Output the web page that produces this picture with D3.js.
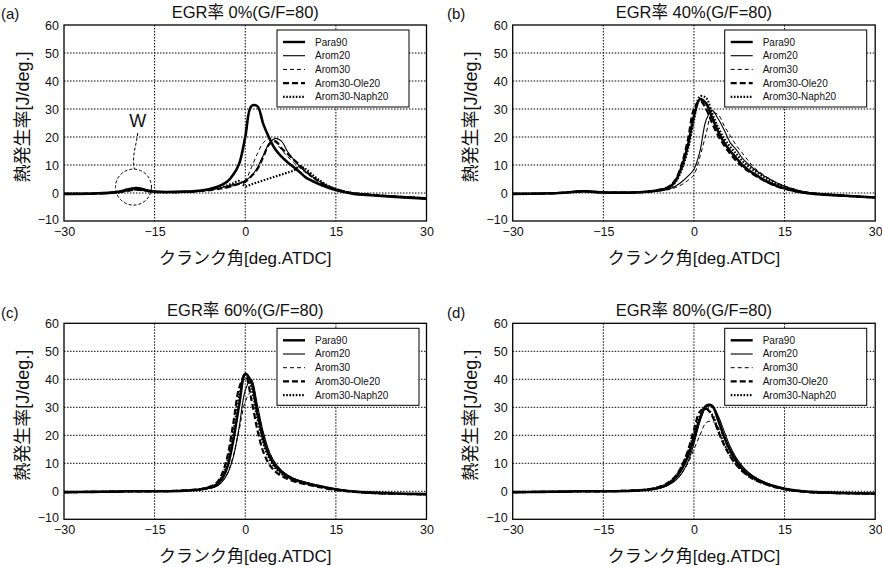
<!DOCTYPE html>
<html><head><meta charset="utf-8">
<script src="https://cdn.jsdelivr.net/npm/d3@7"></script>
<style>
body{margin:0;background:#fff;}
text{font-family:"Liberation Sans","Noto Sans CJK JP",sans-serif;fill:#111;}
</style></head>
<body><svg id="chart" width="882" height="567"></svg>
<script>
// ---------------- data ----------------
const crankAngle = [-30,-25,-21,-19.5,-18,-16.5,-15,-10,-7,-5,-4,-3,-2,-1,0,1,2,3,4,5,6,7,8,9,10,12,14,16,18,20,25,30];
const seriesNames = ["Para90","Arom20","Arom30","Arom30-Ole20","Arom30-Naph20"];
const legendLabels = ["Para90","Arom20","Arom30","Arom30-Ole20","Arom30-Naph20"];
const panelLetters = ["(a)","(b)","(c)","(d)"];
const panelTitles = ["EGR率 0%(G/F=80)","EGR率 40%(G/F=80)","EGR率 60%(G/F=80)","EGR率 80%(G/F=80)"];
const xTicks = [-30,-15,0,15,30];
const yTicks = [-10,0,10,20,30,40,50,60];
const xLabel = "クランク角[deg.ATDC]";
const yLabel = "熱発生率[J/deg.]";

// EGR 0%
const a_Para90 = [-0.3,-0.2,0.4,1.2,1.8,1.1,0.5,0.5,1.0,2.0,2.8,4.0,6.5,10.5,20,31,31,24.5,19.5,15.5,13,11,9.3,7.5,5.6,3.4,1.7,0.5,-0.3,-0.7,-1.4,-2.0];
const a_Arom20 = [-0.3,-0.2,0.3,0.9,1.3,0.9,0.4,0.4,0.9,1.5,1.9,2.5,3.0,3.6,4.5,6.0,9.0,13.5,17.8,19.5,18.5,14.8,12,9.5,7.6,4.5,2.2,0.8,-0.1,-0.5,-1.3,-1.9];
const a_Arom30 = [-0.3,-0.2,0.3,0.8,1.2,0.8,0.4,0.4,0.8,1.3,1.6,2.0,2.6,3.3,4.5,9,14,18,19.5,18,15.5,13,11,9,7.2,4.2,2.0,0.7,-0.1,-0.5,-1.3,-1.9];
const a_Ole20 = [-0.3,-0.2,0.3,0.8,1.2,0.8,0.4,0.4,0.8,1.3,1.6,2.0,2.6,3.3,4.0,6.0,8.5,13,17.5,18.5,16,14,12,10,7.8,4.4,2.1,0.7,-0.1,-0.5,-1.3,-1.9];
const a_Naph20 = [-0.3,-0.2,0.3,0.9,1.3,0.9,0.4,0.4,0.9,1.5,2.0,2.7,3.5,4.3,2.4,3.1,3.8,4.5,5.2,5.9,6.6,7.3,8.0,9.5,8.5,5.0,2.3,0.8,-0.1,-0.5,-1.3,-1.9];
// EGR 40%
const b_Para90 = [-0.3,-0.2,0.2,0.5,0.6,0.4,0.2,0.2,0.6,1.3,2.2,4.5,9.5,17,27.5,33.5,32,27,22,18,15,12.5,10,8.2,6.8,4.2,2.3,1.1,0.2,-0.3,-1.0,-1.6];
const b_Arom20 = [-0.3,-0.2,0.2,0.5,0.6,0.4,0.2,0.2,0.5,1.0,1.5,2.5,4,6,8.5,15,26,29.5,26.5,22.5,18,15.5,12.5,10.3,8.5,5.6,3.3,1.7,0.5,-0.1,-0.9,-1.6];
const b_Arom30 = [-0.3,-0.2,0.2,0.5,0.6,0.4,0.2,0.2,0.5,0.9,1.3,2.0,3.0,4.5,6.5,13,21,28.5,28,24,20.5,17,14.3,11.5,9,5.8,3.4,1.8,0.6,0,-0.9,-1.6];
const b_Ole20 = [-0.3,-0.2,0.2,0.5,0.6,0.4,0.2,0.2,0.7,1.5,2.5,5,10.5,19,30,33,30,25,20.5,17,14,11.5,9.5,7.8,6.4,4,2.2,1.0,0.2,-0.3,-1.0,-1.6];
const b_Naph20 = [-0.3,-0.2,0.2,0.5,0.6,0.4,0.2,0.2,0.6,1.3,2.0,4.0,8.5,15.5,26,34.5,34,28.5,23.5,19.5,16.5,14,11.5,9.5,8,5.2,3.0,1.5,0.4,-0.2,-1.0,-1.6];
// EGR 60%
const c_Para90 = [-0.3,-0.2,-0.1,0,0,0,0,0.2,0.8,2,4,8.5,18,31,42,39,28,18.5,12.5,9,6.8,5.3,4.3,3.6,3,2,1.1,0.4,-0.1,-0.4,-0.8,-1.0];
const c_Arom20 = [-0.3,-0.2,-0.1,0,0,0,0,0.2,0.7,1.5,3,6,12,23,36,40,31,21,14,10,7.5,5.8,4.6,3.8,3.2,2.1,1.2,0.5,0,-0.4,-0.8,-1.0];
const c_Arom30 = [-0.3,-0.2,-0.1,0,0,0,0,0.2,0.7,1.5,3,6.2,12.5,22,32,35.5,29.5,20.5,14,10,7.5,5.8,4.6,3.8,3.2,2.1,1.2,0.5,0,-0.4,-0.8,-1.0];
const c_Ole20 = [-0.3,-0.2,-0.1,0,0,0,0,0.3,1,2.5,5.5,12,24,37,41.5,33,22,14,9.5,7,5.5,4.4,3.6,3,2.5,1.6,0.8,0.2,-0.2,-0.5,-0.9,-1.1];
const c_Naph20 = [-0.3,-0.2,-0.1,0,0,0,0,0.3,0.9,2.2,4.8,10.5,21,34,42,37,26,17,11.5,8.2,6.2,4.9,4,3.3,2.8,1.8,1.0,0.3,-0.1,-0.5,-0.9,-1.1];
// EGR 80%
const d_Para90 = [-0.3,-0.2,-0.1,0,0,0,0,0.2,0.7,1.8,3,5,8,12.5,19,26,30.5,30.5,25.5,19.5,14.5,10.8,8,6,4.6,2.7,1.4,0.5,0,-0.3,-0.6,-0.8];
const d_Arom20 = [-0.3,-0.2,-0.1,0,0,0,0,0.2,0.6,1.5,2.5,4,6.5,10.5,17,25,30,30.5,27,21.5,16,12,9,6.8,5.2,3,1.5,0.6,0,-0.3,-0.6,-0.8];
const d_Arom30 = [-0.3,-0.2,-0.1,0,0,0,0,0.2,0.6,1.5,2.5,4,6.5,10,15,20,24.5,25,23,19,15,11.5,8.8,6.7,5.2,3,1.5,0.6,0,-0.3,-0.6,-0.8];
const d_Ole20 = [-0.3,-0.2,-0.1,0,0,0,0,0.3,0.9,2.2,3.5,5.5,9,14.5,22,28.5,29.5,27,21.5,16.5,12.5,9.5,7.2,5.5,4.2,2.4,1.2,0.4,-0.1,-0.4,-0.7,-0.9];
const d_Naph20 = [-0.3,-0.2,-0.1,0,0,0,0,0.3,0.9,2.1,3.3,5.5,9,14,20.5,27,29.5,27.5,22,17,12.8,9.7,7.4,5.6,4.3,2.5,1.3,0.5,0,-0.4,-0.7,-0.9];

// annotation W (panel a), data coordinates
const wCircle = {x:-18.5, y:2.1};
const wText = {x:-17.8, y:23.6};

// ---------------- layout ----------------
const panelData = [
  [a_Para90,a_Arom20,a_Arom30,a_Ole20,a_Naph20],
  [b_Para90,b_Arom20,b_Arom30,b_Ole20,b_Naph20],
  [c_Para90,c_Arom20,c_Arom30,c_Ole20,c_Naph20],
  [d_Para90,d_Arom20,d_Arom30,d_Ole20,d_Naph20]
];
const panelPos = [{l:64,t:25},{l:512.7,t:25},{l:64,t:323.3},{l:512.7,t:323.3}];
const letterPos = [{x:1,y:19},{x:447,y:19},{x:1,y:318},{x:447,y:318}];
const yLabelX = [23,471,23,471];
const PW = 362.5, PH = 196;
const styles = [
  {w:2.6, dash:null},
  {w:1.1, dash:null},
  {w:1.0, dash:"4,3"},
  {w:2.2, dash:"6,3"},
  {w:2.2, dash:"1.6,1.6"}
];

const svg = d3.select("#chart");
svg.append("rect").attr("width",882).attr("height",567).attr("fill","#fff");

const x = d3.scaleLinear().domain([-30,30]).range([0,PW]);
const y = d3.scaleLinear().domain([-10,60]).range([PH,0]);

panelPos.forEach((p,pi)=>{
  const g = svg.append("g").attr("transform",`translate(${p.l},${p.t})`);
  const cid = "clip"+pi;
  g.append("clipPath").attr("id",cid).append("rect").attr("width",PW).attr("height",PH);

  // grid
  const grid = g.append("g");
  xTicks.slice(1,-1).forEach(v=>{
    grid.append("line").attr("x1",x(v)).attr("x2",x(v)).attr("y1",0).attr("y2",PH)
      .attr("stroke","#000").attr("stroke-width",1).attr("stroke-dasharray","1.5,1.5");
  });
  yTicks.slice(1,-1).forEach(v=>{
    grid.append("line").attr("y1",y(v)).attr("y2",y(v)).attr("x1",0).attr("x2",PW)
      .attr("stroke","#000").attr("stroke-width",1).attr("stroke-dasharray","1.5,1.5");
  });

  // axes (labels)
  const ax = g.append("g").attr("transform",`translate(0,${PH})`)
    .call(d3.axisBottom(x).tickValues(xTicks).tickSize(0).tickPadding(6));
  const ay = g.append("g")
    .call(d3.axisLeft(y).tickValues(yTicks).tickSize(0).tickPadding(5));
  [ax,ay].forEach(a=>{
    a.select(".domain").remove();
    a.selectAll("text").attr("font-size",12.5).attr("fill","#222")
      .attr("font-family","'Liberation Sans',sans-serif");
  });
  // nudge the lowest y label up slightly so it clears the x labels
  ay.selectAll(".tick").filter(d=>d===-10).select("text").attr("dy","0.2em");

  // lines
  const line = d3.line()
    .x((d,i)=>x(crankAngle[i]))
    .y(d=>y(d))
    .curve(d3.curveCatmullRom.alpha(0.5));
  const lg = g.append("g").attr("clip-path",`url(#${cid})`);
  panelData[pi].forEach((vals,si)=>{
    const st = styles[si];
    lg.append("path").datum(vals).attr("d",line)
      .attr("fill","none").attr("stroke","#000")
      .attr("stroke-width",st.w)
      .attr("stroke-dasharray",st.dash)
      .attr("stroke-linejoin","round");
  });

  // legend
  const leg = g.append("g").attr("transform",`translate(${pi%2===0?213:212},5)`);
  const legW = pi===0 ? 132 : 142;
  leg.append("rect").attr("width",legW).attr("height",77)
    .attr("fill","#fff").attr("stroke","#000").attr("stroke-width",1);
  legendLabels.forEach((name,si)=>{
    const yy = 12 + si*13.7;
    const st = styles[si];
    leg.append("line").attr("x1",6).attr("x2",28).attr("y1",yy).attr("y2",yy)
      .attr("stroke","#000").attr("stroke-width",Math.min(st.w,2.4))
      .attr("stroke-dasharray",st.dash);
    leg.append("text").attr("x",38).attr("y",yy+3.5).attr("font-size",10)
      .attr("fill","#333").text(name);
  });

  // frame
  g.append("rect").attr("width",PW).attr("height",PH).attr("fill","none")
    .attr("stroke","#000").attr("stroke-width",1.3);

  // title
  g.append("text").attr("x",x(0)).attr("y",-7).attr("text-anchor","middle")
    .attr("font-size",16.5).text(panelTitles[pi]);

  // axis labels
  g.append("text").attr("x",x(0)).attr("y",PH+43).attr("text-anchor","middle")
    .attr("font-size",17).text(xLabel);

  // W annotation (panel a)
  if(pi===0){
    g.append("circle").attr("cx",x(wCircle.x)).attr("cy",y(wCircle.y)).attr("r",18)
      .attr("fill","none").attr("stroke","#000").attr("stroke-width",1).attr("stroke-dasharray","3,2");
    g.append("text").attr("x",x(wText.x)).attr("y",y(wText.y)).attr("text-anchor","middle")
      .attr("font-size",18).text("W");
    const x0 = x(wText.x), y0 = y(wText.y)+6;
    const x1 = x(wCircle.x)+1, y1 = y(wCircle.y)-18;
    g.append("path").attr("d",`M${x0},${y0} C${x0-1},${y0+12} ${x1-3},${y1-14} ${x1},${y1}`)
      .attr("fill","none").attr("stroke","#000").attr("stroke-width",1).attr("stroke-dasharray","3,2");
  }

  // panel letter and y label, absolute positions
  svg.append("text").attr("x",letterPos[pi].x).attr("y",letterPos[pi].y).attr("font-size",15)
    .text(panelLetters[pi]);
  svg.append("text").attr("transform",`translate(${yLabelX[pi]},${p.t+PH/2-6}) rotate(-90)`)
    .attr("text-anchor","middle").attr("dominant-baseline","central")
    .attr("font-size",18).text(yLabel);
});
</script></body></html>
